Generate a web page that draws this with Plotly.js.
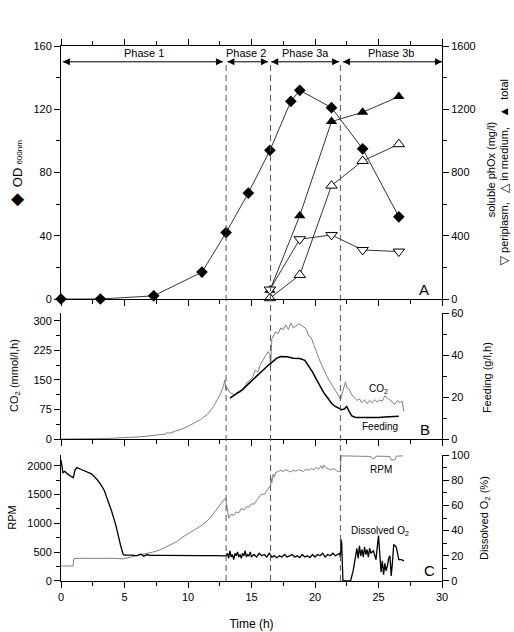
<!DOCTYPE html>
<html>
<head>
<meta charset="utf-8">
<script src="https://cdn.plot.ly/plotly-3.0.1.min.js"></script>
<style>html,body{margin:0;padding:0;background:#fff;}#chart{width:514px;height:632px;}</style>
</head>
<body>
<div id="chart"></div>
<script>
// ---- Panel A data ----
const odTime = [0, 3.1, 7.3, 11.1, 13.0, 14.75, 16.45, 18.1, 18.8, 21.3, 23.75, 26.6];
const odValues = [0, 0, 2, 17, 42, 67, 94, 125, 132, 121, 95, 52];
const protTime = [16.45, 18.8, 21.3, 23.75, 26.6];
const protTotal = [55, 527, 1122, 1181, 1280];
const protMedium = [5, 152, 717, 873, 979];
const protPeriplasm = [60, 378, 405, 310, 300];

// ---- Panel B data ----
const co2Time = [0,1,2,3,4,5,6,7,7.5,8,8.3,8.4,8.5,9,9.5,10,10.5,11,11.5,12,12.3,12.6,12.8,12.9,13.0,13.1,13.3,13.5,13.7,13.9,14.1,14.3,14.5,14.7,14.9,15.1,15.3,15.5,15.7,15.9,16.1,16.3,16.45,16.5,16.6,16.7,16.9,17.1,17.3,17.5,17.7,17.9,18.1,18.3,18.5,18.7,18.9,19.1,19.3,19.5,19.7,19.9,20.1,20.3,20.5,20.7,20.9,21.1,21.3,21.5,21.7,21.9,22.0,22.1,22.3,22.4,22.5,22.7,22.9,23.1,23.3,23.5,23.7,23.9,24.1,24.3,24.5,24.7,24.9,25.1,25.3,25.5,25.7,25.9,26.1,26.3,26.5,26.7,26.85,27.0];
const co2Values = [0,0,1,1,2,3,5,8,10,12,13,18,14,20,25,32,40,50,62,82,100,118,135,150,125,130,118,115,112,120,118,128,135,145,150,158,175,170,190,200,210,222,215,180,255,262,272,268,282,278,290,278,295,282,288,292,290,286,280,262,258,240,220,205,190,175,162,150,140,128,120,108,100,110,135,145,132,125,112,105,98,102,92,100,90,98,92,100,94,99,96,110,104,98,92,88,98,92,97,70];
const feedTime = [13.3,13.8,14.3,14.8,15.3,15.8,16.3,16.6,17.0,17.3,17.8,18.3,18.8,19.2,19.5,19.8,20.1,20.4,20.7,21.0,21.3,21.6,21.9,22.1,22.3,22.5,22.7,22.9,23.2,24.0,25.0,25.5,26.0,26.6];
const feedValues = [19.5,21.5,23.5,26.5,29.5,32.5,35,36.5,38.5,39.3,39.2,38.5,38.3,37.5,35,32,28.5,25,22,19.5,17,15.5,14.5,14,14.3,15.5,13,11,10.3,10.2,10.3,10.5,10.5,10.8];

// ---- Panel C data ----
const rpmTime = [0,0.95,1.0,1.1,2,3,4,4.9,5.2,5.8,6.5,7.2,7.8,8.1,8.6,9.1,9.6,10.1,10.6,11.1,11.5,11.8,12.1,12.4,12.7,12.9,13.0,13.1,13.2,13.4,13.6,13.8,14.0,14.2,14.4,14.6,14.8,15.0,15.2,15.4,15.6,15.8,16.0,16.2,16.4,16.5,16.55,16.6,16.7,16.8,16.9,17.1,17.3,17.5,17.7,17.9,18.1,18.3,18.5,18.7,18.9,19.1,19.3,19.5,19.7,19.9,20.1,20.3,20.5,20.6,20.7,20.9,21.1,21.3,21.5,21.7,21.9,22.0,22.05,23,24,24.4,24.5,24.7,24.8,25.9,26.0,26.3,26.4,26.9];
const rpmValues = [260,260,380,393,393,395,393,385,400,430,462,500,540,570,620,680,765,840,900,970,1040,1110,1200,1290,1380,1430,1400,1250,1090,1160,1140,1200,1180,1260,1230,1290,1280,1340,1330,1400,1460,1510,1500,1570,1630,1640,1780,1700,1850,1800,1880,1900,1920,1900,1930,1910,1890,1920,1905,1930,1920,1900,1940,1920,1950,1930,1970,1940,2000,1950,2010,1960,1940,1930,1950,1910,1900,1890,2170,2170,2165,2160,2125,2130,2165,2160,2100,2100,2165,2170];
const doTime = [0,0.15,0.3,0.5,0.8,0.97,1.1,1.25,1.6,2.0,2.4,2.8,3.1,3.4,3.7,4.0,4.3,4.5,4.7,4.9,5.0,5.5,6.0,6.3,6.5,6.8,7.0,8.0,9.0,10.0,11.0,12.0,13.0,13.1,13.2,13.3,13.4,13.5,13.6,13.7,13.8,13.9,14.0,14.1,14.2,14.3,14.4,14.5,14.6,14.7,14.8,14.9,15.0,15.2,15.4,15.6,15.8,16.0,16.2,16.4,16.6,16.8,17.0,17.2,17.4,17.6,17.8,18.0,18.2,18.4,18.6,18.8,19.0,19.2,19.4,19.6,19.8,20.0,20.2,20.4,20.6,20.8,21.0,21.2,21.4,21.6,21.8,21.95,22.0,22.05,22.1,22.15,22.2,22.8,23.0,23.2,23.3,23.4,23.5,23.6,23.7,23.8,23.9,24.0,24.1,24.2,24.3,24.4,24.6,24.8,25.0,25.1,25.2,25.3,25.4,25.5,25.6,25.7,25.8,25.9,26.0,26.1,26.2,26.3,26.4,26.5,26.6,26.8,27.0];
const doValues = [96,86,87,85,83,82,88,90,88.5,87,85,81,77,72,64,55,45,36,28,21,20.5,20.5,20.2,21.5,19.6,21,20.3,20.3,20.1,20.4,20.1,20.2,20.0,22,18,24,19,21,17,22,20,23,19,21,18,22,20,24,19,21,20,23,19,21,19,22,20,21,19,22,19,20,18.5,20,19,21,19,20,21,19,20,18.5,21,19,20,18.5,21,19,21,20,22,19,21,20,22,20,21,22,19,33,30,5,0,0,8,20,26,18,28,20,25,19,27,21,25,19,26,22,24,17,36,22,7,16,5,14,8,12,18,20,4,15,29,28,27,22,17,17,16];

// ---- Phase boundaries and labels ----
const phaseBounds = [0, 13, 16.5, 22, 30];
const phaseNames = ['Phase 1', 'Phase 2', 'Phase 3a', 'Phase 3b'];
const phaseLabelX = [6.5, 14.6, 19.25, 26.0];
const phaseArrowY = 150;
const dashedTimes = [13, 16.5, 22];

const FONT = 'Liberation Sans, Arial, DejaVu Sans, sans-serif';
const lineStyle = {color: '#000', width: 0.8};

// phase double arrows: a line per phase with arrow markers at both ends (tips sit on the points)
const gaps = [[0.15, -0.25], [0.1, -0.2], [0.05, -0.1], [0.2, 0]];
const arrX = [], arrY = [], arrSym = [];
for (let i = 0; i < phaseNames.length; i++) {
  arrX.push(phaseBounds[i] + gaps[i][0], phaseBounds[i + 1] + gaps[i][1], null);
  arrY.push(phaseArrowY, phaseArrowY, null);
  arrSym.push('arrow-left', 'arrow-right', 'circle');
}

const traces = [
  {x: protTime, y: protTotal, xaxis: 'x3', yaxis: 'y2', mode: 'lines+markers', cliponaxis: false,
   line: lineStyle, marker: {symbol: 'triangle-up', size: 10, color: '#000'}},
  {x: protTime, y: protMedium, xaxis: 'x3', yaxis: 'y2', mode: 'lines+markers', cliponaxis: false,
   line: lineStyle, marker: {symbol: 'triangle-up', size: 10, color: '#fff', line: {color: '#000', width: 1}}},
  {x: protTime, y: protPeriplasm, xaxis: 'x3', yaxis: 'y2', mode: 'lines+markers', cliponaxis: false,
   line: lineStyle, marker: {symbol: 'triangle-down', size: 10, color: '#fff', line: {color: '#000', width: 1}}},
  {x: odTime, y: odValues, xaxis: 'x3', yaxis: 'y', mode: 'lines+markers', cliponaxis: false,
   line: lineStyle, marker: {symbol: 'diamond', size: 9, color: '#000'}},
  {x: arrX, y: arrY, xaxis: 'x3', yaxis: 'y', mode: 'lines+markers', cliponaxis: false, connectgaps: false,
   line: {color: '#000', width: 1}, marker: {symbol: arrSym, size: 7, color: '#000'}},
  {x: co2Time, y: co2Values, xaxis: 'x2', yaxis: 'y3', mode: 'lines', line: {color: '#808080', width: 1}},
  {x: feedTime, y: feedValues, xaxis: 'x2', yaxis: 'y4', mode: 'lines', line: {color: '#000', width: 1.5}},
  {x: rpmTime, y: rpmValues, xaxis: 'x', yaxis: 'y5', mode: 'lines', line: {color: '#808080', width: 1}},
  {x: doTime, y: doValues, xaxis: 'x', yaxis: 'y6', mode: 'lines', line: {color: '#000', width: 1.3}}
];

function xAxis(extra) {
  return Object.assign({
    range: [0, 30], showline: true, linecolor: '#000', linewidth: 1, zeroline: false, showgrid: false,
    ticks: 'outside', ticklen: 6, tickcolor: '#000', tick0: 0, dtick: 5,
    minor: {dtick: 2.5, ticks: 'outside', ticklen: 4, tickcolor: '#000'},
    tickfont: {family: FONT, size: 11, color: '#000'}
  }, extra);
}
function yAxis(extra) {
  return Object.assign({
    showline: true, linecolor: '#000', linewidth: 1, zeroline: false, showgrid: false,
    ticks: 'outside', ticklen: 6, tickcolor: '#000',
    tickfont: {family: FONT, size: 11, color: '#000'}
  }, extra);
}

const dA = [0.5271, 1], dB = [0.2654, 0.5009], dC = [0, 0.2355];

const shapes = dashedTimes.map(t => ({
  type: 'line', xref: 'x', yref: 'paper', x0: t, x1: t, y0: 0, y1: 0.968,
  line: {color: '#555', width: 1, dash: '6px,4px'}
}));

const annotations = [];
for (let i = 0; i < phaseNames.length; i++) {
  annotations.push({xref: 'x3', yref: 'y', x: phaseLabelX[i], y: 155.5, text: phaseNames[i], showarrow: false,
    font: {family: FONT, size: 11, color: '#000'}});
}
annotations.push({xref: 'x3', yref: 'y', x: 16.5, y: 160.3, text: 'Induction', showarrow: true,
  ax: 0, ay: -33, arrowhead: 2, arrowsize: 1.2, arrowwidth: 1, arrowcolor: '#000', standoff: 0,
  font: {family: FONT, size: 11, color: '#000'}});
// panel letters
annotations.push({xref: 'x3', yref: 'y', x: 28.6, y: 6, text: 'A', showarrow: false, font: {family: FONT, size: 15, color: '#000'}});
annotations.push({xref: 'x2', yref: 'y3', x: 28.7, y: 25, text: 'B', showarrow: false, font: {family: FONT, size: 15, color: '#000'}});
annotations.push({xref: 'x', yref: 'y5', x: 29.0, y: 175, text: 'C', showarrow: false, font: {family: FONT, size: 15, color: '#000'}});
// inline curve labels
const small = {family: FONT, size: 10, color: '#000'};
annotations.push({xref: 'x2', yref: 'y3', x: 25.0, y: 127, text: 'CO<sub>2</sub>', showarrow: false, font: small});
annotations.push({xref: 'x2', yref: 'y3', x: 25.1, y: 33, text: 'Feeding', showarrow: false, font: small});
annotations.push({xref: 'x', yref: 'y5', x: 25.2, y: 1942, text: 'RPM', showarrow: false, font: small});
annotations.push({xref: 'x', yref: 'y5', x: 25.1, y: 872, text: 'Dissolved O<sub>2</sub>', showarrow: false, font: small});
// axis titles (rotated)
const tf = {family: FONT, size: 11, color: '#000'};
function vtitle(x, y, text) {
  annotations.push({xref: 'paper', yref: 'paper', x: x, y: y, xanchor: 'center', yanchor: 'middle',
    text: text, textangle: -90, showarrow: false, font: tf});
}
vtitle(-0.118, 0.762, '<span style="font-size:17px">◆</span>\u00a0\u00a0<span style="font-size:13px">OD</span> <span style="font-size:8px">600nm</span>');
vtitle(1.129, 0.768, 'soluble phOx (mg/l)');
vtitle(1.1627, 0.764, '<span style="font-size:12px">▽</span>\u00a0periplasm,\u00a0\u00a0\u00a0<span style="font-size:12px">△</span>\u00a0in medium,\u00a0\u00a0\u00a0<span style="font-size:12px">▲</span>\u00a0\u00a0total');
vtitle(-0.121, 0.385, 'CO<sub>2</sub> (mmol/l,h)');
vtitle(1.118, 0.381, 'Feeding (g/l,h)');
vtitle(-0.129, 0.118, 'RPM');
vtitle(1.113, 0.118, 'Dissolved O<sub>2</sub> (%)');

const layout = {
  width: 514, height: 632,
  margin: {l: 61, r: 72, t: 46, b: 51},
  paper_bgcolor: '#fff', plot_bgcolor: 'rgba(0,0,0,0)',
  showlegend: false,
  font: {family: FONT, size: 11, color: '#000'},
  xaxis: xAxis({anchor: 'y5', title: {text: 'Time (h)', font: {family: FONT, size: 12, color: '#000'}, standoff: 17}}),
  xaxis2: xAxis({anchor: 'y3', matches: 'x', showticklabels: false}),
  xaxis3: xAxis({anchor: 'y', matches: 'x', showticklabels: false, mirror: 'ticks'}),
  yaxis: yAxis({domain: dA, anchor: 'x3', range: [0, 160], tick0: 0, dtick: 40,
    minor: {dtick: 20, ticks: 'outside', ticklen: 4, tickcolor: '#000'}}),
  yaxis2: yAxis({overlaying: 'y', side: 'right', anchor: 'x3', range: [0, 1600], tick0: 0, dtick: 400,
    minor: {dtick: 200, ticks: 'outside', ticklen: 4, tickcolor: '#000'}}),
  yaxis3: yAxis({domain: dB, anchor: 'x2', range: [0, 320], tick0: 0, dtick: 75,
    minor: {dtick: 37.5, ticks: 'outside', ticklen: 4, tickcolor: '#000'}}),
  yaxis4: yAxis({overlaying: 'y3', side: 'right', anchor: 'x2', range: [0, 60], tick0: 0, dtick: 20,
    minor: {dtick: 10, ticks: 'outside', ticklen: 4, tickcolor: '#000'}}),
  yaxis5: yAxis({domain: dC, anchor: 'x', range: [0, 2185], tick0: 0, dtick: 500,
    minor: {dtick: 250, ticks: 'outside', ticklen: 4, tickcolor: '#000'}}),
  yaxis6: yAxis({overlaying: 'y5', side: 'right', anchor: 'x', range: [0, 100], tick0: 0, dtick: 20,
    minor: {dtick: 10, ticks: 'outside', ticklen: 4, tickcolor: '#000'}}),
  shapes: shapes,
  annotations: annotations
};

Plotly.newPlot('chart', traces, layout, {displayModeBar: false, staticPlot: true});
</script>
</body>
</html>
